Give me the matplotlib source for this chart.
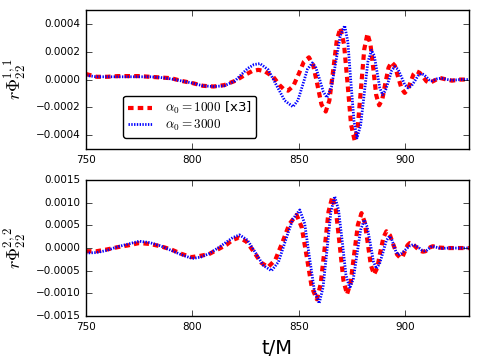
import matplotlib
matplotlib.use("Agg")
import matplotlib.pyplot as plt
import numpy as np

plt.style.use("classic")
plt.rcParams["mathtext.fontset"] = "cm"
plt.rcParams["savefig.facecolor"] = "white"

# top panel: r Phi^{1,1}_{22}, values in units of 1e-4
r1_t = [750, 755, 760, 765, 770, 775, 780, 785, 790, 795,
        800, 805, 810, 815, 820, 825, 828, 831, 834, 838,
        841, 843, 845, 847.5, 850, 852.4, 854.8, 856.8, 858.8, 860.7,
        862.7, 864.4, 866.2, 867.9, 869.6, 871.3, 873, 874.6, 876.3, 877.8,
        879.3, 880.8, 882.3, 883.7, 885.1, 886.4, 887.8, 889.3, 890.7, 892.2,
        893.6, 895.2, 896.7, 898.3, 899.8, 901.2, 902.6, 903.9, 905.3, 906.9,
        908.5, 910, 911.6, 914, 916.3, 919, 922, 926, 930]
r1_v = [0.4, 0.2, 0.2, 0.25, 0.25, 0.25, 0.2, 0.15, 0.1, -0.1,
        -0.25, -0.45, -0.5, -0.4, -0.1, 0.35, 0.6, 0.7, 0.6, 0.2,
        -0.4, -0.7, -0.8, -0.45, 0.4, 1.28, 1.6, 1.04, -0.39, -1.8,
        -2.3, -1.51, 0.66, 2.83, 3.72, 2.53, -0.36, -3.25, -4.4, -3.31,
        -0.57, 2.18, 3.3, 2.55, 0.72, -1.11, -1.85, -1.4, -0.28, 0.85,
        1.25, 0.99, 0.18, -0.63, -0.96, -0.73, -0.18, 0.37, 0.6, 0.48,
        0.18, -0.12, -0.24, -0.05, 0.12, 0.02, -0.08, 0.0, 0.0]

b1_t = [750, 755, 760, 765, 770, 775, 780, 785, 790, 795,
        800, 805, 810, 815, 820, 823, 826, 829, 831.8, 835.7,
        839.5, 843.4, 847.3, 849.6, 851.9, 854.1, 856.4, 858.1, 859.9, 861.6,
        863.3, 865.4, 867.5, 869.5, 871.6, 873.1, 874.5, 876, 877.4, 879.1,
        880.8, 882.5, 884.2, 885.5, 886.8, 888.1, 889.4, 890.8, 892.3, 893.7,
        895.1, 896.7, 898.3, 899.8, 901.4, 903, 904.6, 906.1, 907.7, 908.9,
        910.1, 911.3, 912.5, 915, 917, 920, 922, 926, 930]
b1_v = [0.3, 0.2, 0.2, 0.2, 0.2, 0.2, 0.2, 0.15, 0.05, -0.1,
        -0.25, -0.45, -0.5, -0.45, -0.1, 0.35, 0.8, 1.08, 1.15, 0.7,
        -0.4, -1.51, -1.96, -1.5, -0.38, 0.74, 1.2, 0.84, -0.03, -0.89,
        -1.3, -0.5, 1.32, 3.13, 3.88, 2.7, -0.16, -3.02, -4.2, -3.27,
        -1.0, 1.27, 2.1, 1.72, 0.56, -0.6, -1.08, -0.78, -0.06, 0.66,
        0.93, 0.73, 0.18, -0.37, -0.6, -0.45, -0.09, 0.28, 0.43, 0.35,
        0.17, -0.02, -0.1, 0.05, 0.1, 0.0, -0.05, 0.0, 0.0]

# bottom panel: r Phi^{2,2}_{22}, values in units of 1e-4
r2_t = [750, 755, 760, 765, 770, 775, 780, 785, 790, 795,
        799.5, 804, 808, 812, 816, 819, 822, 825.5, 829, 832.3,
        835.6, 839, 842.3, 845.6, 849, 851.4, 853.8, 856.1, 858.5, 860.3,
        862.2, 864, 865.8, 867.5, 869.3, 871, 872.7, 874.4, 876.1, 877.8,
        879.5, 881, 882.5, 883.9, 885.4, 886.9, 888.3, 889.8, 891.2, 892.9,
        894.5, 896.2, 897.8, 898.9, 900, 901.1, 902.2, 903.8, 905.3, 906.9,
        908.4, 909.6, 910.7, 911.9, 913, 916, 920, 925, 930]
r2_v = [-0.7, -0.7, -0.3, 0.2, 0.6, 1.1, 0.9, 0.4, -0.3, -1.3,
        -2.0, -1.7, -1.3, -0.3, 0.7, 1.8, 2.3, 1.4, -0.9, -3.2,
        -4.2, -2.6, 1.2, 5.3, 7.3, 4.6, -2.0, -8.6, -11.3, -8.0,
        0.0, 8.0, 11.3, 8.2, 0.5, -7.1, -10.2, -7.6, -1.2, 5.1,
        7.7, 5.7, 0.9, -3.8, -5.8, -4.4, -1.0, 2.3, 3.7, 2.8,
        0.7, -1.4, -2.2, -1.8, -0.6, 0.6, 1.1, 0.8, 0.1, -0.6,
        -0.8, -0.7, -0.25, 0.2, 0.4, 0.1, 0.0, 0.0, 0.0]

b2_t = [750, 755, 760, 765, 770, 775, 780, 785, 790, 795,
        800, 804, 808, 812, 816, 819, 822.2, 825.9, 829.7, 833.4,
        837.2, 840.5, 843.8, 847.2, 850.5, 852.8, 855, 857.3, 859.6, 861.4,
        863.3, 865.1, 866.9, 868.7, 870.5, 872.2, 874, 875.7, 877.4, 879.1,
        880.8, 882.2, 883.7, 885.1, 886.5, 888, 889.6, 891.1, 892.6, 893.6,
        894.7, 895.7, 896.7, 898.5, 900.2, 902, 903.7, 905.1, 906.5, 907.8,
        909.2, 910.2, 911.1, 912, 913, 917, 920, 925, 930]
b2_v = [-1.1, -1.0, -0.5, 0.3, 0.9, 1.5, 1.2, 0.5, -0.5, -1.5,
        -2.3, -2.0, -1.2, 0.0, 1.3, 2.3, 2.9, 1.75, -1.05, -3.85,
        -5.0, -3.06, 1.65, 6.36, 8.4, 5.4, -1.9, -9.2, -12.2, -8.75,
        -0.4, 7.95, 11.4, 8.44, 1.25, -5.94, -8.9, -6.7, -1.35, 4.0,
        6.2, 4.64, 0.85, -2.94, -4.5, -3.46, -0.95, 1.56, 2.6, 2.0,
        0.58, -0.86, -1.45, -1.13, -0.36, 0.42, 0.74, 0.54, 0.05, -0.45,
        -0.65, -0.5, -0.14, 0.22, 0.37, -0.1, 0.0, 0.0, 0.0]

xticks = [750, 800, 850, 900]
yticks_top = [-0.0004, -0.0002, 0.0, 0.0002, 0.0004]
yticks_bot = [-0.0015, -0.0010, -0.0005, 0.0, 0.0005, 0.0010, 0.0015]

fig = plt.figure(figsize=(4.8, 3.6), dpi=100)
ax1 = fig.add_axes([0.179, 0.586, 0.798, 0.386])
ax2 = fig.add_axes([0.179, 0.122, 0.798, 0.378])

ax1.plot(r1_t, np.array(r1_v) * 1e-4, "r--", lw=3, dashes=(4, 3),
         label=r"$\alpha_0=1000$ [x3]")
ax1.plot(b1_t, np.array(b1_v) * 1e-4, "b:", lw=2, dashes=(1, 1),
         label=r"$\alpha_0=3000$")
ax2.plot(r2_t, np.array(r2_v) * 1e-4, "r--", lw=3, dashes=(4, 3))
ax2.plot(b2_t, np.array(b2_v) * 1e-4, "b:", lw=2, dashes=(1, 1))

ax1.set_ylim(-0.0005, 0.0005)
ax1.set_yticks(yticks_top)
ax2.set_ylim(-0.0015, 0.0015)
ax2.set_yticks(yticks_bot)
for ax in (ax1, ax2):
    ax.set_xlim(750, 930)
    ax.set_xticks(xticks)
    ax.tick_params(labelsize=7.5)

ax1.set_ylabel(r"$r\Phi_{22}^{1,1}$", fontsize=13)
ax2.set_ylabel(r"$r\Phi_{22}^{2,2}$", fontsize=13)
ax2.set_xlabel("t/M", fontsize=14)

ax1.legend(loc="lower left", bbox_to_anchor=(0.08, 0.035), fontsize=9.5,
           fancybox=True, numpoints=1, handlelength=1.8, handletextpad=1.0,
           labelspacing=0.1, borderpad=0.35)

fig.savefig("out.png", dpi=100)
